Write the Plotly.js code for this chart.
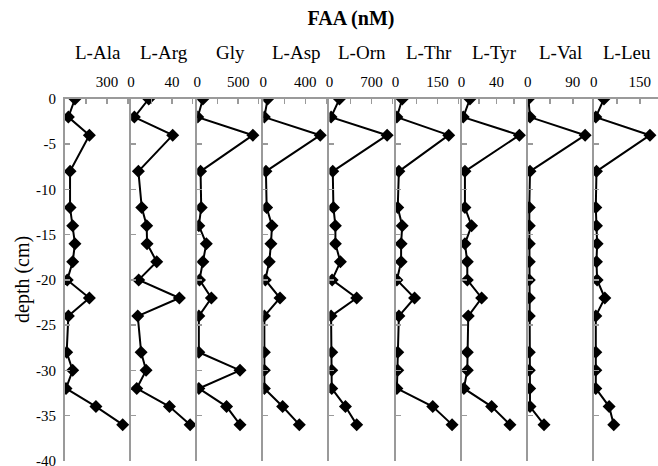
<!DOCTYPE html>
<html>
<head>
<meta charset="utf-8">
<script src="https://cdn.plot.ly/plotly-3.0.1.min.js"></script>
<style>
  html, body { margin: 0; padding: 0; background: #fff; }
  #chart { width: 658px; height: 466px; }
</style>
</head>
<body>
<div id="chart"></div>
<script>
// Sampling depths (cm, negative downward)
const depth = [0, -2, -4, -8, -12, -14, -16, -18, -20, -22, -24, -28, -30, -32, -34, -36];

// Free amino acid concentrations (nM) per depth
const acids = ['L-Ala', 'L-Arg', 'Gly', 'L-Asp', 'L-Orn', 'L-Thr', 'L-Tyr', 'L-Val', 'L-Leu'];
const ala = [71, 24, 174, 36, 36, 55, 71, 55, 16, 174, 24, 12, 55, 7, 221, 412];
const arg = [17.2, 3.2, 40.6, 7.1, 10.4, 15.2, 15.6, 25, 7.4, 47.1, 6.5, 9.8, 14.6, 5.5, 37.4, 57.6];
const gly = [69, 7, 679, 41, 49, 20, 111, 69, 28, 173, 20, 20, 522, 20, 358, 522];
const asp = [41, 10, 543, 25, 32, 83, 73, 57, 19, 159, 10, 10, 10, 10, 184, 343];
const orn = [167, 28, 962, 56, 67, 100, 100, 183, 45, 455, 28, 39, 39, 39, 267, 455];
const thr = [24, 5, 190, 12, 8, 24, 20, 20, 5, 68, 12, 8, 8, 5, 133, 202];
const tyr = [9.5, 1.9, 66, 3.8, 3.8, 11.4, 3.8, 6.5, 6.5, 22.9, 7.6, 6.5, 6.5, 2.6, 34.3, 55.2];
const val = [1.4, 4.6, 114.7, 4.6, 3.2, 3.2, 3.2, 3.2, 3.2, 3.2, 3.2, 3.2, 3.2, 4, 4.6, 32.6];
const leu = [33, 6.5, 183, 8.7, 6.5, 8.7, 10.9, 8.7, 10.9, 36, 6.5, 6.5, 6.5, 6.5, 50, 65];
const series = [ala, arg, gly, asp, orn, thr, tyr, val, leu];

// Labelled tick on each concentration axis
const labeledTick = [300, 40, 500, 400, 700, 150, 40, 90, 150];

// Depth axis ticks
const depthTicks = [0, -5, -10, -15, -20, -25, -30, -35, -40];
const depthTickText = ['0', '-5', '-10', '-15', '-20', '-25', '-30', '-35', '-40'];

// Concentration span covered by one full panel width
const axisSpan = [472, 64.5, 806, 630, 1102, 236, 75.5, 132, 215.5];

const W = 658, H = 466, ML = 65, MT = 99, MB = 5;
const plotW = W - ML;
const plotH = H - MT - MB;
const panelPx = 66.1;
const grey = '#9a9a9a';
const serif = 'Liberation Serif';

const traces = [];
const layout = {
  width: W,
  height: H,
  margin: { l: ML, r: 0, t: MT, b: MB },
  paper_bgcolor: '#fff',
  plot_bgcolor: '#fff',
  showlegend: false,
  font: { family: serif, size: 15, color: '#000' },
  title: {
    text: '<b>FAA (nM)</b>',
    font: { family: serif, size: 20, color: '#000' },
    xref: 'container', yref: 'container',
    x: 351 / W, y: 1 - 18 / H,
    xanchor: 'center', yanchor: 'middle'
  },
  annotations: [{
    text: 'depth (cm)',
    xref: 'paper', yref: 'paper',
    x: (22 - ML) / plotW, y: 0.5,
    xanchor: 'center', yanchor: 'middle',
    textangle: -90,
    showarrow: false,
    font: { family: serif, size: 20, color: '#000' }
  }]
};

series.forEach((vals, i) => {
  const k = i === 0 ? '' : String(i + 1);
  const d0 = i * panelPx / plotW;
  const d1 = Math.min(1, (i + 1) * panelPx / plotW);
  const rangeMax = axisSpan[i] * (d1 - d0) * plotW / panelPx;
  const lt = labeledTick[i];

  layout['xaxis' + k] = {
    domain: [d0, d1],
    range: [0, rangeMax],
    side: 'top',
    anchor: 'y' + k,
    showline: true, linecolor: grey, linewidth: 2,
    ticks: 'inside', ticklen: 5, tickwidth: 1.5, tickcolor: grey,
    tickvals: [0, lt / 2, lt, lt * 1.5],
    ticktext: [i === 0 ? '' : '0', '', String(lt), ''],
    tickfont: { family: serif, size: 15, color: '#000' },
    ticklabelstandoff: 4,
    ticklabeloverflow: 'allow',
    showgrid: false, zeroline: false, fixedrange: true
  };

  layout['yaxis' + k] = {
    domain: [0, 1],
    range: [-40.02, 0],
    anchor: 'x' + k,
    showline: true, linecolor: grey, linewidth: 2,
    ticks: 'inside', ticklen: 5, tickwidth: 1.5, tickcolor: grey,
    tickvals: depthTicks,
    ticktext: depthTickText,
    showticklabels: i === 0,
    tickfont: { family: serif, size: 15, color: '#000' },
    ticklabelstandoff: 4,
    ticklabeloverflow: 'allow',
    showgrid: false, zeroline: false, fixedrange: true
  };

  traces.push({
    x: vals,
    y: depth,
    xaxis: 'x' + k,
    yaxis: 'y' + k,
    type: 'scatter',
    mode: 'lines+markers',
    line: { color: '#000', width: 2 },
    marker: { symbol: 'diamond', size: 10, color: '#000' },
    cliponaxis: true,
    hoverinfo: 'skip'
  });

  // Amino acid name above each panel
  layout.annotations.push({
    text: acids[i],
    xref: 'paper', yref: 'paper',
    x: (i + 0.5) * panelPx / plotW,
    y: 1 + (MT - 52) / plotH,
    xanchor: 'center', yanchor: 'middle',
    showarrow: false,
    font: { family: serif, size: 19, color: '#000' }
  });
});

Plotly.newPlot('chart', traces, layout, { displayModeBar: false, staticPlot: true });
</script>
</body>
</html>
